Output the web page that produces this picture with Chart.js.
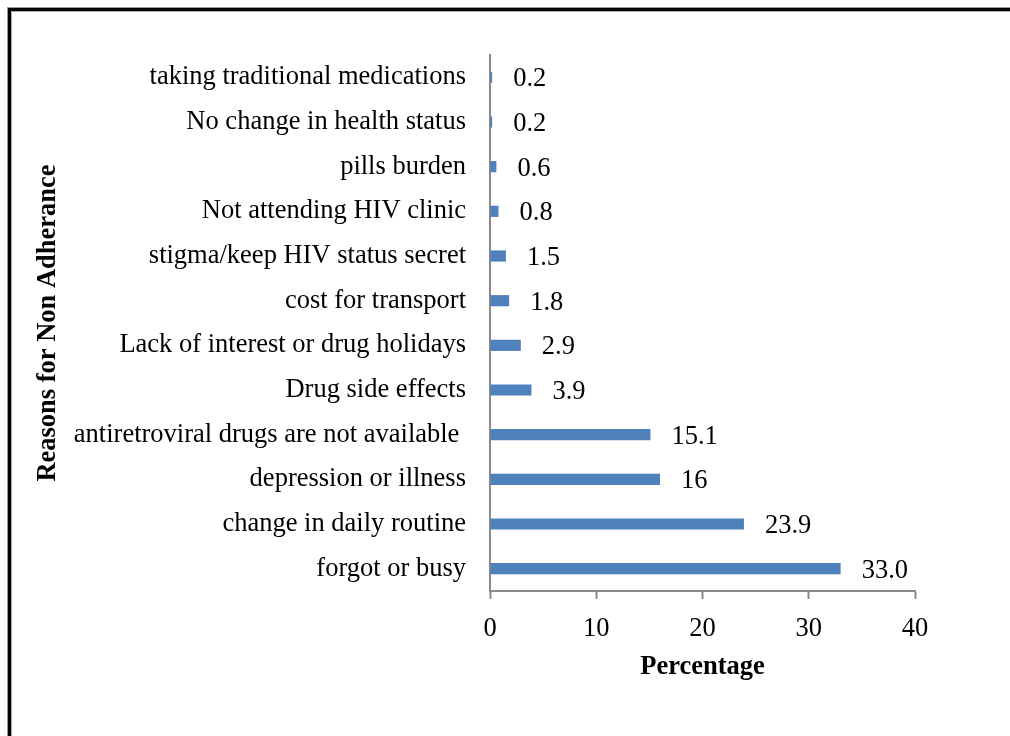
<!DOCTYPE html>
<html>
<head>
<meta charset="utf-8">
<script src="https://cdn.jsdelivr.net/npm/chart.js@4/dist/chart.umd.min.js"></script>
<style>
  body { margin: 0; background: #fff; overflow: hidden; }
  #frame {
    position: absolute; left: 8px; top: 8px; width: 1100px; height: 800px;
    border-left: 3px solid #000; border-top: 3px solid #000;
    box-shadow: -1px -1px 0 #999, inset 1px 1px 0 #aaa;
  }
  #wrap { position: absolute; left: 0; top: 0; width: 1010px; height: 736px; }
</style>
</head>
<body>
<div id="frame"></div>
<div id="wrap"><canvas id="BarChart"></canvas></div>
<script>
// Dati del grafico (dall'alto verso il basso)
const reasons = [
    'taking traditional medications',
    'No change in health status',
    'pills burden',
    'Not attending HIV clinic',
    'stigma/keep HIV status secret',
    'cost for transport',
    'Lack of interest or drug holidays',
    'Drug side effects',
    'antiretroviral drugs are not available ',
    'depression or illness',
    'change in daily routine',
    'forgot or busy'
];
const percentages = [0.2, 0.2, 0.6, 0.8, 1.5, 1.8, 2.9, 3.9, 15.1, 16, 23.9, 33.0];
const valueLabels = ['0.2', '0.2', '0.6', '0.8', '1.5', '1.8', '2.9', '3.9', '15.1', '16', '23.9', '33.0'];
const xTicks = [0, 10, 20, 30, 40];

const serif = '"Liberation Serif", "Times New Roman", serif';
const axisGrey = '#8a8a8a';

// Etichette dei valori accanto alle barre
const barLabels = {
    id: 'barLabels',
    afterDatasetsDraw(chart) {
        const ctx = chart.ctx;
        const meta = chart.getDatasetMeta(0);
        ctx.save();
        ctx.font = '26.5px ' + serif;
        ctx.fillStyle = '#000';
        ctx.textAlign = 'left';
        ctx.textBaseline = 'middle';
        meta.data.forEach((bar, i) => {
            ctx.fillText(valueLabels[i], bar.x + 21, bar.y + 2);
        });
        ctx.restore();
    }
};

const barData = {
    labels: reasons,
    datasets: [{
        data: percentages,
        backgroundColor: '#4F81BD',
        barPercentage: 0.25,
        categoryPercentage: 1
    }]
};

const barOptions = {
    indexAxis: 'y',
    responsive: true,
    maintainAspectRatio: false,
    animation: false,
    layout: {
        padding: { left: 32, right: 95, top: 55, bottom: 53 }
    },
    plugins: {
        legend: { display: false },
        tooltip: { enabled: false }
    },
    scales: {
        x: {
            min: 0,
            max: 40,
            afterBuildTicks: (scale) => { scale.ticks = xTicks.map(v => ({ value: v })); },
            afterFit: (scale) => { scale.height = 92; },
            grid: {
                drawOnChartArea: false,
                drawTicks: true,
                tickLength: 8,
                tickColor: axisGrey,
                tickWidth: 2
            },
            border: { color: axisGrey, width: 2 },
            ticks: {
                color: '#000',
                padding: 14,
                font: { family: serif, size: 26.5 }
            },
            title: {
                display: true,
                text: 'Percentage',
                color: '#000',
                padding: 0,
                font: { family: serif, size: 26.5, weight: 'bold' }
            }
        },
        y: {
            afterFit: (scale) => { scale.width = 458; },
            grid: { display: false, drawTicks: false },
            border: { display: true, color: axisGrey, width: 2 },
            ticks: {
                color: '#000',
                padding: 24,
                autoSkip: false,
                font: { family: serif, size: 26.5 }
            },
            title: {
                display: true,
                text: 'Reasons for Non Adherance',
                color: '#000',
                padding: 0,
                font: { family: serif, size: 26.5, weight: 'bold' }
            }
        }
    }
};

document.addEventListener('DOMContentLoaded', function() {
    const barCtx = document.getElementById('BarChart').getContext('2d');
    const barChart = new Chart(barCtx, {
        type: 'bar',
        data: barData,
        options: barOptions,
        plugins: [barLabels]
    });
});
</script>
</body>
</html>
